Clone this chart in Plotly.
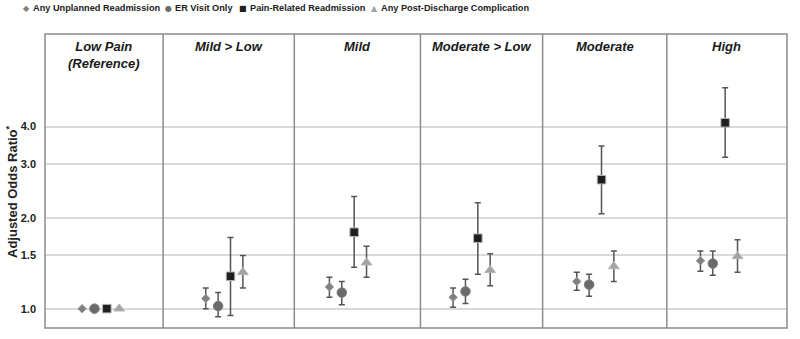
import plotly.graph_objects as go
import math

panels = ["Low Pain<br>(Reference)", "Mild > Low", "Mild", "Moderate > Low", "Moderate", "High"]
series_names = ["Any Unplanned Readmission", "ER Visit Only", "Pain-Related Readmission", "Any Post-Discharge Complication"]

# odds ratio estimates (per panel)
any_readmit = [1.00, 1.08, 1.18, 1.09, 1.23, 1.44]
any_readmit_lo = [1.00, 1.00, 1.09, 1.01, 1.15, 1.33]
any_readmit_hi = [1.00, 1.17, 1.27, 1.17, 1.32, 1.55]

er_visit = [1.00, 1.02, 1.13, 1.14, 1.20, 1.41]
er_visit_lo = [1.00, 0.94, 1.03, 1.04, 1.10, 1.29]
er_visit_hi = [1.00, 1.13, 1.23, 1.25, 1.30, 1.55]

pain_readmit = [1.00, 1.28, 1.79, 1.71, 2.67, 4.12]
pain_readmit_lo = [1.00, 0.95, 1.37, 1.30, 2.06, 3.17]
pain_readmit_hi = [1.00, 1.72, 2.35, 2.24, 3.45, 5.38]

complication = [1.00, 1.32, 1.42, 1.34, 1.38, 1.49]
complication_lo = [1.00, 1.17, 1.27, 1.19, 1.23, 1.32]
complication_hi = [1.00, 1.50, 1.61, 1.52, 1.55, 1.69]

tick_vals = [1.0, 1.5, 2.0, 3.0, 4.0]
tick_text = ["<b>1.0</b>", "<b>1.5</b>", "<b>2.0</b>", "<b>3.0</b>", "<b>4.0</b>"]

# styles
symbols = ["diamond", "circle", "square", "triangle-up"]
fills = ["#808080", "#6a6a6a", "#1e1e1e", "#a3a3a3"]
lines = ["#9a9a9a", "#7a7a7a", "#b0b0b0", "#b5b5b5"]
sizes = [6.5, 9.5, 8.5, 9.5]
glyphs = ["◆", "●", "■", "▲"]
offsets = [0.3, 0.4, 0.5, 0.6]
dividers = [0.955, 2.016, 3.036, 4.024, 5.028]

data = [
    (any_readmit, any_readmit_lo, any_readmit_hi),
    (er_visit, er_visit_lo, er_visit_hi),
    (pain_readmit, pain_readmit_lo, pain_readmit_hi),
    (complication, complication_lo, complication_hi),
]

fig = go.Figure()
for k, (vals, lo, hi) in enumerate(data):
    xs = [i + offsets[k] for i in range(len(panels))]
    fig.add_trace(go.Scatter(
        x=xs, y=vals, mode="markers", name=series_names[k],
        marker=dict(symbol=symbols[k], color=fills[k], size=sizes[k],
                    line=dict(color=lines[k], width=1)),
        error_y=dict(type="data", symmetric=False,
                     array=[h - v for h, v in zip(hi, vals)],
                     arrayminus=[v - l for v, l in zip(vals, lo)],
                     color="#555555", thickness=1.5, width=3),
        showlegend=False,
    ))

edges = [0] + dividers + [6]
for j, name in enumerate(panels):
    fig.add_annotation(x=(edges[j] + edges[j + 1]) / 2, y=1, xref="x", yref="paper",
                       yanchor="top", yshift=-3, showarrow=False, text="<b><i>%s</i></b>" % name,
                       font=dict(family="Liberation Sans, Arial", size=13, color="#1a1a1a"))

for d in dividers:
    fig.add_shape(type="line", x0=d, x1=d, y0=0, y1=1, xref="x", yref="paper",
                  line=dict(color="#8c8c8c", width=1.5))
fig.add_shape(type="rect", x0=0, x1=1, y0=0, y1=1, xref="paper", yref="paper",
              line=dict(color="#8c8c8c", width=1.5))

# legend (glyph + text placed separately)
glyph_x = [26, 168, 243, 374]
text_x = [31, 173, 248, 379]
leg_y = 1 + (34 - 8.5) / 294
for k in range(4):
    fig.add_annotation(x=(glyph_x[k] - 45) / 742, y=leg_y, xref="paper", yref="paper",
                       xanchor="center", yanchor="middle", showarrow=False,
                       text=glyphs[k], font=dict(family="DejaVu Sans", size=8, color=fills[k]))
    fig.add_annotation(x=(text_x[k] - 45) / 742, y=leg_y, xref="paper", yref="paper",
                       xanchor="left", yanchor="middle", showarrow=False,
                       text="<b>%s</b>" % series_names[k],
                       font=dict(family="Liberation Sans, Arial", size=9.2, color="#222222"))

fig.add_annotation(x=(12 - 45) / 742, y=(328 - 192) / 294, xref="paper", yref="paper", textangle=-90,
                   xanchor="center", yanchor="middle",
                   showarrow=False, text="<b>Adjusted Odds Ratio<sup>*</sup></b>",
                   font=dict(family="Liberation Sans, Arial", size=13, color="#222222"))

fig.update_xaxes(range=[0, 6], showgrid=False, showticklabels=False, zeroline=False, showline=False,
                 automargin=False)
fig.update_yaxes(type="log", range=[math.log10(0.863), math.log10(8.1)], tickvals=tick_vals, ticktext=tick_text,
                 showgrid=True, gridcolor="#d9d9d9", gridwidth=1.5, zeroline=False, showline=False,
                 tickfont=dict(family="Liberation Sans, Arial", size=11, color="#222222"),
                 ticklabelstandoff=8, automargin=False)
fig.update_layout(width=800, height=339, margin=dict(l=45, r=13, t=34, b=11),
                  plot_bgcolor="white", paper_bgcolor="white",
                  font=dict(family="Liberation Sans, Arial"))
fig.write_html("out.html", config={"displayModeBar": False},
               post_script="document.body.style.margin='0px';document.body.style.padding='0px';")
